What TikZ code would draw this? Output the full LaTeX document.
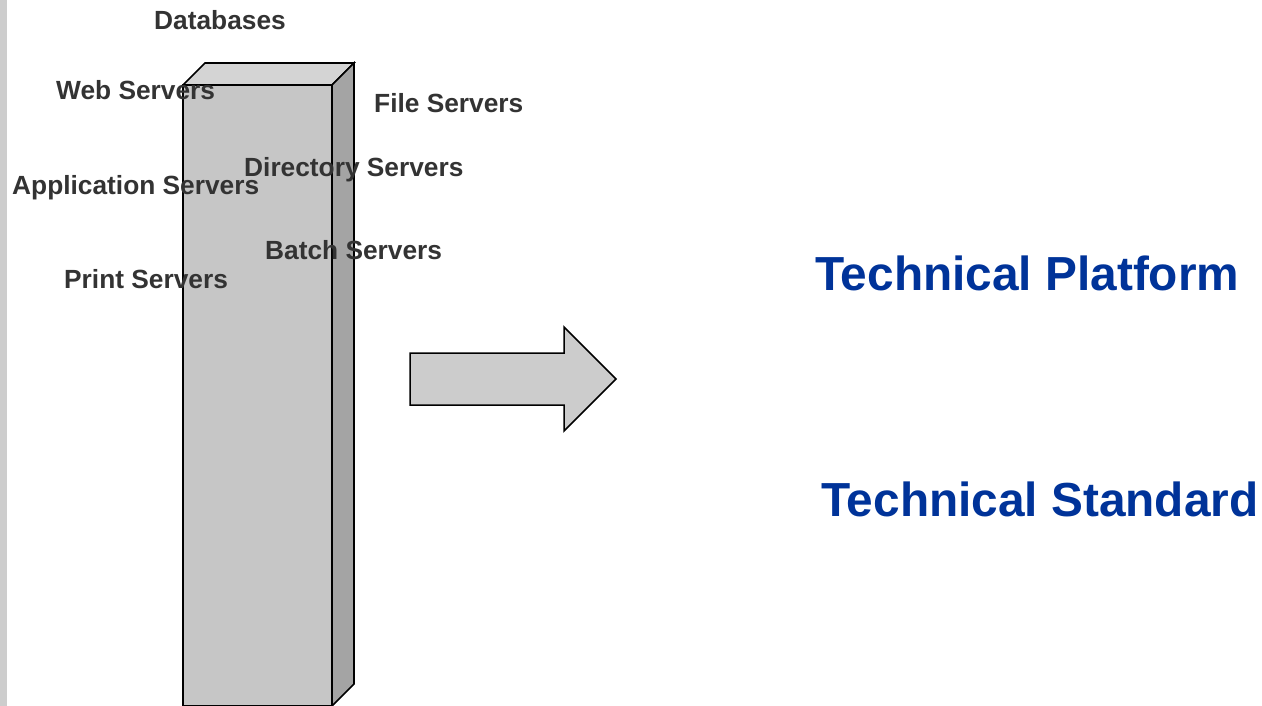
\documentclass[tikz,border=0pt]{standalone}
\usepackage{fontspec}
\setmainfont{Liberation Sans}
\begin{document}
\begin{tikzpicture}[x=1pt,y=-1pt,
  lbl/.style={anchor=base west,inner sep=0pt,text=textgray,font=\bfseries\fontsize{26.3}{30}\selectfont},
  big/.style={anchor=base west,inner sep=0pt,text=titleblue,font=\bfseries\fontsize{47.8}{54}\selectfont},
  edge/.style={draw=black,line width=1.6pt,line join=miter}]
\definecolor{textgray}{HTML}{333333}
\definecolor{titleblue}{HTML}{003399}
\definecolor{frontgray}{HTML}{C6C6C6}
\definecolor{topgray}{HTML}{D4D4D4}
\definecolor{sidegray}{HTML}{A4A4A4}
\definecolor{arrowgray}{HTML}{CCCCCC}
\definecolor{bargray}{HTML}{CDCDCD}
\useasboundingbox (0,0) rectangle (1262,706);
\fill[bargray] (0,0) rectangle (7,706);
% column
\path[edge,fill=frontgray] (183,85) rectangle (332,706);
\path[edge,fill=topgray] (183,85) -- (205,63) -- (354,63) -- (332,85) -- cycle;
\path[edge,fill=sidegray] (332,85) -- (354,63) -- (354,684) -- (332,706) -- cycle;
% labels
\node[lbl] (db) at (154,30) {Databases};
\node[lbl] (web) at (56,100) {Web Servers};
\node[lbl] (file) at (374,113) {File Servers};
\node[lbl] (dir) at (244,177) {Directory Servers};
\node[lbl] (app) at (12,194) {Application Servers};
\node[lbl] (batch) at (265,259) {Batch Servers};
\node[lbl] (print) at (64,288) {Print Servers};
% arrow
\path[draw=black,line width=1.5pt,fill=arrowgray] (410,353) -- (564,353) -- (564,327) -- (616,379) -- (564,431) -- (564,405) -- (410,405) -- cycle;
% titles
\node[big] (tp) at (815,290) {Technical Platform};
\node[big] (ts) at (821,516) {Technical Standard};
\end{tikzpicture}
\end{document}
